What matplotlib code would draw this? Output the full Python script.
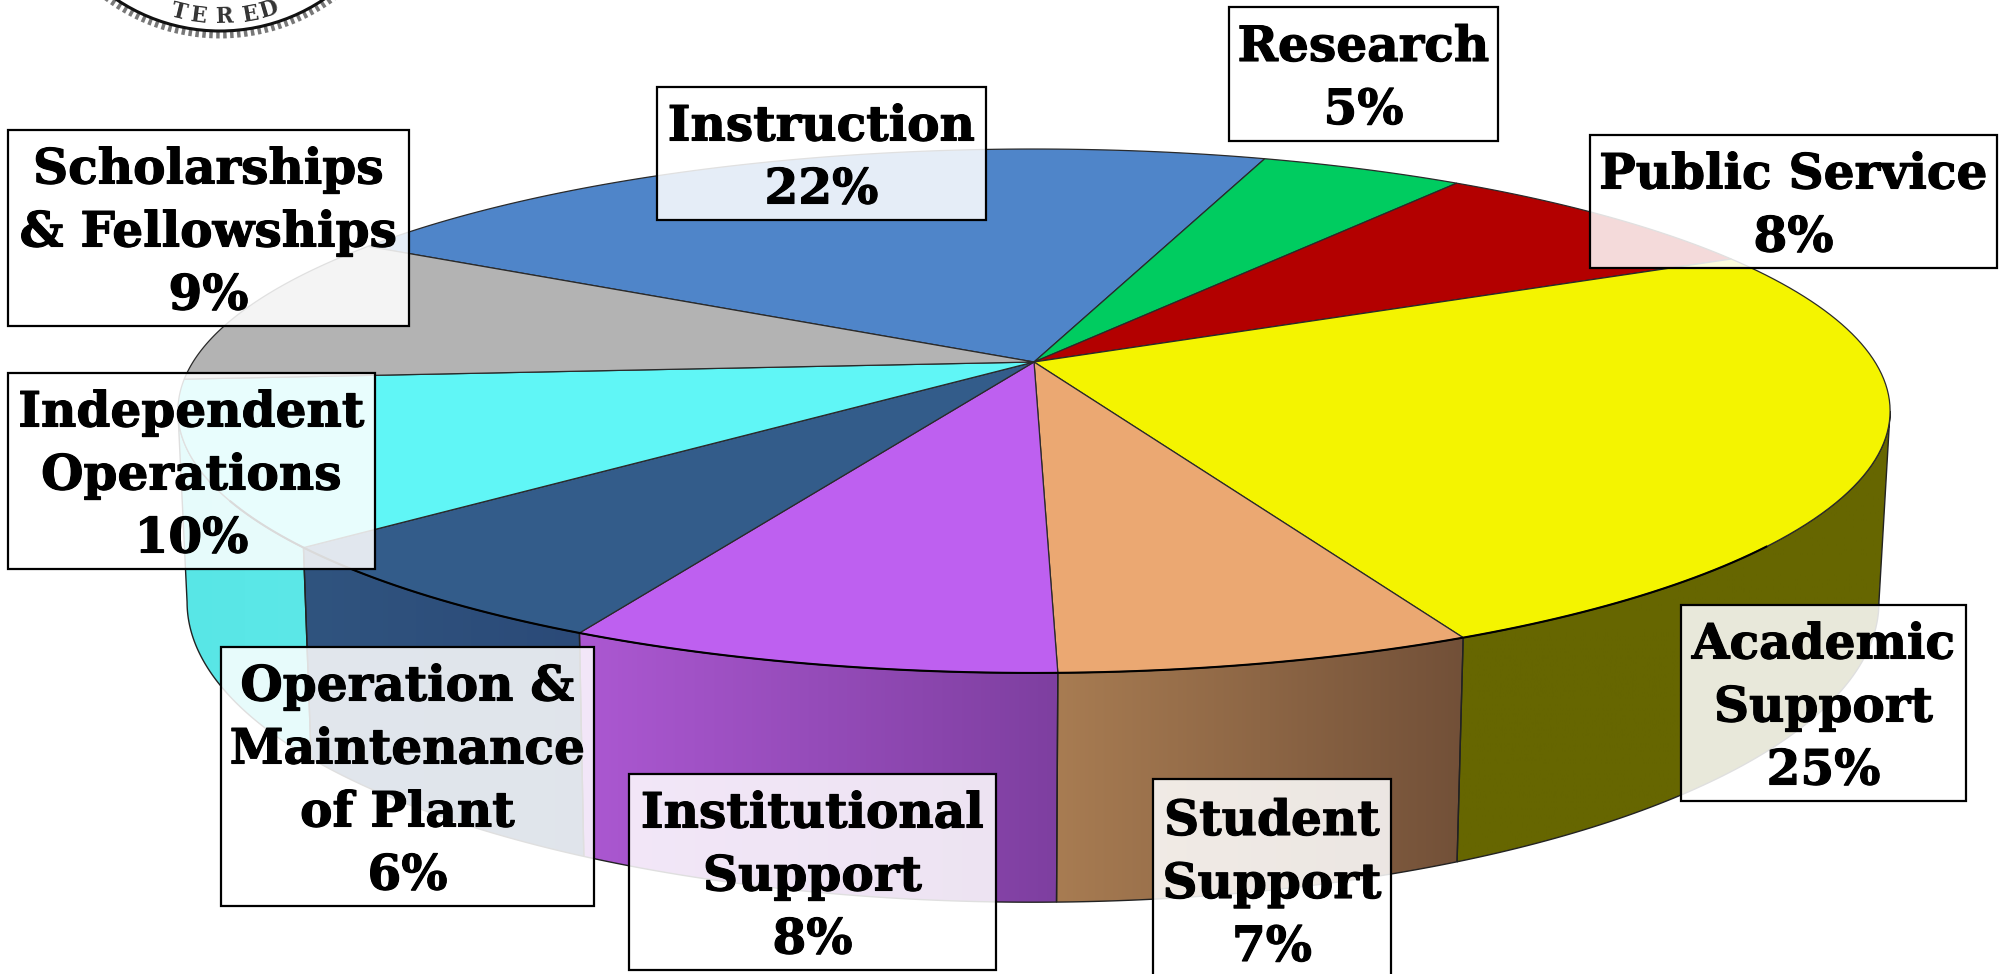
"""
plot.py
=======

Perspective 3D pie of expenditure shares, with boxed labels on top.
Saves out.png at 2011x974.
"""

import numpy as np
import matplotlib
matplotlib.use('Agg')
import matplotlib.pyplot as plt
import matplotlib.patheffects as pe
from matplotlib.colors import LinearSegmentedColormap
from matplotlib.patches import Circle, Polygon, Rectangle

# ── Data ─────────────────────────────────────────────────────────────────────
categories = ["Instruction", "Research", "Public Service", "Academic Support",
              "Student Support", "Institutional Support",
              "Operation & Maintenance of Plant", "Independent Operations",
              "Scholarships & Fellowships"]
shares = [21.9, 4.6, 7.9, 25.3, 6.6, 7.8, 6.4, 10.1, 9.4]
percent_labels = ["22%", "5%", "8%", "25%", "7%", "8%", "6%", "10%", "9%"]
label_lines = [["Instruction"], ["Research"], ["Public Service"],
               ["Academic", "Support"], ["Student", "Support"],
               ["Institutional", "Support"],
               ["Operation &", "Maintenance", "of Plant"],
               ["Independent", "Operations"],
               ["Scholarships", "& Fellowships"]]

# ── Styles ───────────────────────────────────────────────────────────────────
top_colors = ["#4F85C9", "#00CC60", "#B30000", "#F4F400", "#EBA872",
              "#BE60F0", "#335C8A", "#60F6F6", "#B3B3B3"]
side_left = ["#3F6AA0", "#00A34C", "#8F0000", "#666600", "#A87C52",
             "#AC58D2", "#30547F", "#58E6E6", "#8F8F8F"]
side_right = ["#3F6AA0", "#00A34C", "#8F0000", "#666600", "#725038",
              "#7E3FA0", "#2B4A78", "#5CE8E8", "#8F8F8F"]

# label boxes in pixels: left, right, top, bottom
boxes = [(657, 986, 87, 220), (1229, 1498, 7, 141), (1590, 1997, 135, 268),
         (1681, 1966, 605, 801), (1153, 1391, 779, 980), (629, 996, 774, 970),
         (221, 594, 647, 906), (8, 375, 373, 569), (8, 409, 130, 326)]

FONT = "DejaVu Serif"
FONT_SIZE = 35
LINE_PITCH = 63
CAP_SHIFT = 18.5

# perspective of the pie discs
START_ANGLE = 150.0
TILT = 0.187
TOP = dict(x0=1034, y0=362, A=841, B=252.8)
BOTTOM = dict(x0=1033, y0=546, A=831, B=289.6)
# the wall is only seen between the two silhouette angles
WALL_FROM = -np.degrees(np.arcsin(TILT))
WALL_TO = -180 - WALL_FROM


def project(angle_deg, disc):
    t = np.radians(angle_deg)
    u, v = np.cos(t), np.sin(t)
    w = 1 + TILT * v
    return disc["x0"] + disc["A"] * u / w, disc["y0"] - disc["B"] * v / w


fig = plt.figure(figsize=(20.11, 9.74), dpi=100)
ax = fig.add_axes([0, 0, 1, 1])

bounds = START_ANGLE - np.concatenate([[0], np.cumsum(shares)]) / np.sum(shares) * 360

# ── Seal, cut by the top edge ────────────────────────────────────────────────
cx, cy = 220, -155
ax.add_patch(Circle((cx, cy), 190, fc="white", ec="#777777", lw=5,
                    ls=(0, (0.5, 0.5)), zorder=1))
ax.add_patch(Circle((cx, cy), 186, fc="none", ec="#111111", lw=2.2, zorder=1))
for letter, tilt in zip("TERED", [-13.7, -7.2, 1.7, 10.3, 16.5]):
    t = np.radians(tilt)
    ax.text(cx + 172 * np.sin(t), cy + 172 * np.cos(t), letter, rotation=tilt,
            family=FONT, weight="bold", fontsize=15.5, color="#333333",
            ha="center", va="center", zorder=1)

# ── Side wall ────────────────────────────────────────────────────────────────
for i in range(len(shares)):
    start = min(bounds[i], WALL_FROM)
    stop = max(bounds[i + 1], WALL_TO)
    if start <= stop:
        continue
    arc = np.linspace(start, stop, 80)
    xt, yt = project(arc, TOP)
    xb, yb = project(arc, BOTTOM)
    pts = np.column_stack([np.r_[xt, xb[::-1]], np.r_[yt, yb[::-1]]])
    poly = Polygon(pts, closed=True, fc="none", ec="#222222", lw=1.0, zorder=3)
    ax.add_patch(poly)
    cmap = LinearSegmentedColormap.from_list("side", [side_left[i], side_right[i]])
    im = ax.imshow(np.linspace(0, 1, 256)[None, :], cmap=cmap, aspect="auto",
                   extent=(pts[:, 0].min(), pts[:, 0].max(),
                           pts[:, 1].max(), pts[:, 1].min()), zorder=2)
    im.set_clip_path(poly)

# ── Top face ─────────────────────────────────────────────────────────────────
for i in range(len(shares)):
    arc = np.linspace(bounds[i], bounds[i + 1], 80)
    xt, yt = project(arc, TOP)
    pts = np.column_stack([np.r_[TOP["x0"], xt], np.r_[TOP["y0"], yt]])
    ax.add_patch(Polygon(pts, closed=True, fc=top_colors[i], ec="#2A2A2A",
                         lw=0.9, zorder=4))

# heavier line where the top meets the front wall
xf, yf = project(np.linspace(-40, -150, 120), TOP)
ax.plot(xf, yf, color="black", lw=1.5, zorder=5)

# ── Label boxes ──────────────────────────────────────────────────────────────
for lines, pct, (left, right, top, bottom) in zip(label_lines, percent_labels, boxes):
    ax.add_patch(Rectangle((left, top), right - left, bottom - top, fc=(1, 1, 1, 0.86),
                           ec="black", lw=1.6, zorder=6))
    rows = lines + [pct]
    xc = (left + right) / 2
    yc = (top + bottom) / 2
    for j, row in enumerate(rows):
        y = yc + (j - (len(rows) - 1) / 2) * LINE_PITCH + CAP_SHIFT
        ax.text(xc, y, row, family=FONT, weight="bold", fontsize=FONT_SIZE,
                color="black", ha="center", va="baseline", zorder=7,
                path_effects=[pe.withStroke(linewidth=0.8, foreground="black")])

ax.set_xlim(0, 2011)
ax.set_ylim(974, 0)
ax.axis("off")

fig.savefig("out.png", dpi=100, facecolor="white")
